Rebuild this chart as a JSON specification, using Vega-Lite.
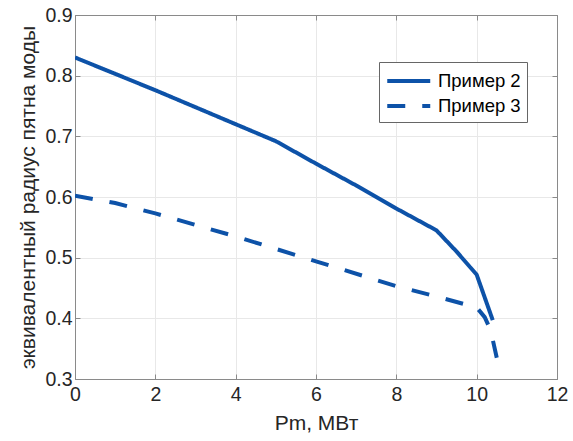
{
  "$schema": "https://vega.github.io/schema/vega-lite/v6.json",
  "width": 482,
  "height": 364,
  "autosize": {"type": "none"},
  "padding": {"left": 75, "top": 15, "right": 16, "bottom": 62},
  "background": "white",
  "config": {
    "font": "Liberation Sans",
    "view": {"stroke": "#8a8a8a", "strokeWidth": 1},
    "axis": {
      "labelFont": "Liberation Sans",
      "titleFont": "Liberation Sans",
      "labelFontSize": 19.5,
      "titleFontSize": 21,
      "labelColor": "#262626",
      "titleColor": "#262626",
      "titleFontWeight": "normal",
      "domainColor": "#8a8a8a",
      "tickColor": "#8a8a8a",
      "gridColor": "#e8e8e8",
      "tickSize": -5
    }
  },
  "data": {
    "values": [
      {"p": 0, "r": 0.83, "s": "Пример 2"},
      {"p": 2, "r": 0.776, "s": "Пример 2"},
      {"p": 4, "r": 0.72, "s": "Пример 2"},
      {"p": 5, "r": 0.692, "s": "Пример 2"},
      {"p": 6, "r": 0.655, "s": "Пример 2"},
      {"p": 7, "r": 0.619, "s": "Пример 2"},
      {"p": 8, "r": 0.581, "s": "Пример 2"},
      {"p": 9, "r": 0.545, "s": "Пример 2"},
      {"p": 9.5, "r": 0.51, "s": "Пример 2"},
      {"p": 10, "r": 0.472, "s": "Пример 2"},
      {"p": 10.4, "r": 0.397, "s": "Пример 2"},
      {"p": 0, "r": 0.602, "s": "Пример 3"},
      {"p": 1, "r": 0.59, "s": "Пример 3"},
      {"p": 2, "r": 0.573, "s": "Пример 3"},
      {"p": 4, "r": 0.535, "s": "Пример 3"},
      {"p": 6, "r": 0.494, "s": "Пример 3"},
      {"p": 8, "r": 0.453, "s": "Пример 3"},
      {"p": 9, "r": 0.436, "s": "Пример 3"},
      {"p": 10, "r": 0.418, "s": "Пример 3"},
      {"p": 10.2, "r": 0.402, "s": "Пример 3"},
      {"p": 10.35, "r": 0.38, "s": "Пример 3"},
      {"p": 10.5, "r": 0.335, "s": "Пример 3"}
    ]
  },
  "layer": [
    {
      "mark": {"type": "line", "strokeWidth": 4, "clip": true},
      "encoding": {
        "x": {
          "field": "p", "type": "quantitative",
          "scale": {"domain": [0, 12], "nice": false, "zero": false},
          "axis": {"values": [0, 2, 4, 6, 8, 10, 12], "title": "Pm, МВт", "labelPadding": 11, "titlePadding": 9, "labelFlush": false}
        },
        "y": {
          "field": "r", "type": "quantitative",
          "scale": {"domain": [0.3, 0.9], "nice": false, "zero": false},
          "axis": {"values": [0.3, 0.4, 0.5, 0.6, 0.7, 0.8, 0.9], "format": ".1f", "title": "эквивалентный радиус пятна моды", "labelPadding": 8, "titlePadding": 6, "labelFlush": false}
        },
        "color": {
          "field": "s", "type": "nominal",
          "scale": {"range": ["#0D52A8", "#0D52A8"]},
          "legend": {
            "title": null, "orient": "none", "legendX": 304, "legendY": 47,
            "symbolType": "M-1,0H3", "symbolSize": 462, "symbolStrokeWidth": 4,
            "labelFontSize": 18.5, "labelFont": "Liberation Sans", "labelColor": "#000000",
            "strokeColor": "#666666", "fillColor": "white", "padding": 6,
            "rowPadding": 2, "labelOffset": 27
          }
        },
        "strokeDash": {
          "field": "s", "type": "nominal",
          "scale": {"range": [[1, 0], [18, 17]]},
          "legend": {
            "title": null, "orient": "none", "legendX": 304, "legendY": 47,
            "symbolType": "M-1,0H3", "symbolSize": 462, "symbolStrokeWidth": 4,
            "labelFontSize": 18.5, "labelFont": "Liberation Sans", "labelColor": "#000000",
            "strokeColor": "#666666", "fillColor": "white", "padding": 6,
            "rowPadding": 2, "labelOffset": 27
          }
        }
      }
    },
    {
      "mark": {"type": "line", "opacity": 0},
      "encoding": {
        "x": {
          "field": "p", "type": "quantitative",
          "scale": {"domain": [0, 12], "nice": false, "zero": false},
          "axis": {"orient": "top", "values": [0, 2, 4, 6, 8, 10, 12], "labels": false, "title": null, "grid": false}
        },
        "y": {
          "field": "r", "type": "quantitative",
          "scale": {"domain": [0.3, 0.9], "nice": false, "zero": false},
          "axis": {"orient": "right", "values": [0.3, 0.4, 0.5, 0.6, 0.7, 0.8, 0.9], "labels": false, "title": null, "grid": false}
        },
        "detail": {"field": "s"}
      }
    }
  ],
  "resolve": {"axis": {"x": "independent", "y": "independent"}}
}
